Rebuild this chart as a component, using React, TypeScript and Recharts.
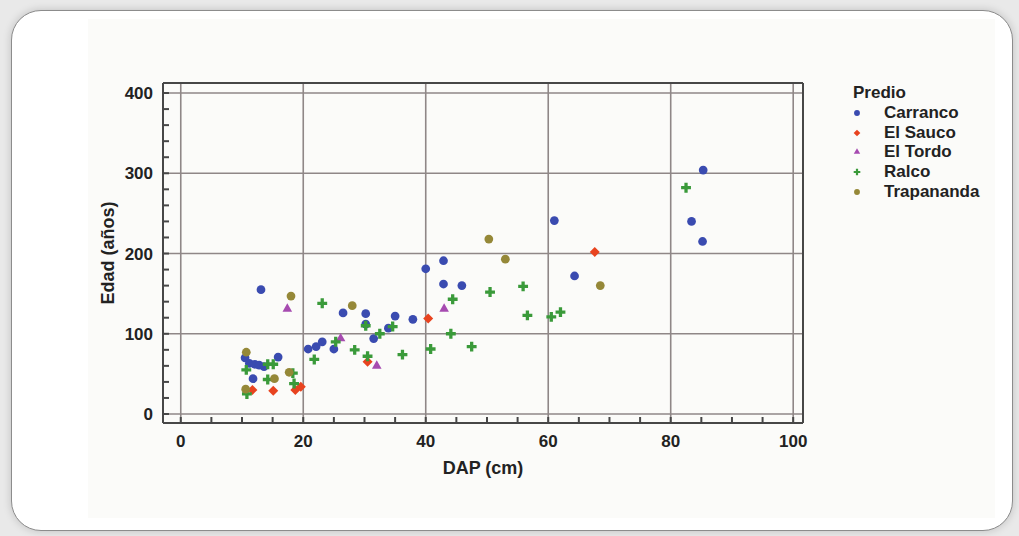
import {
  ScatterChart,
  Scatter,
  XAxis,
  YAxis,
  ReferenceLine,
  Legend,
  Symbols,
} from 'recharts';

const FONT = '"Liberation Sans", Arial, sans-serif';

// DAP (cm) / Edad (años) por predio
const carrancoDap = [10.5, 11.2, 12.1, 12.8, 13.6, 15.9, 11.8, 13.1, 20.8, 22.1, 23.1, 25.0, 26.5, 30.2, 30.2, 31.5, 33.9, 35.0, 37.9, 40.0, 42.9, 42.9, 45.9, 61.0, 64.3, 83.4, 85.3, 85.2];
const carrancoEdad = [70, 63, 62, 61, 59, 71, 44, 155, 81, 84, 90, 81, 126, 125, 112, 94, 107, 122, 118, 181, 191, 162, 160, 241, 172, 240, 304, 215];

const elSaucoDap = [11.7, 15.1, 18.7, 19.6, 30.5, 40.4, 67.6];
const elSaucoEdad = [30, 29, 30, 34, 65, 119, 202];

const elTordoDap = [17.4, 26.1, 32.0, 43.0];
const elTordoEdad = [131, 94, 60, 131];

const ralcoDap = [10.7, 10.8, 14.2, 15.1, 14.2, 18.3, 18.5, 21.8, 23.1, 25.3, 28.4, 30.2, 30.5, 32.5, 34.6, 36.2, 40.8, 44.1, 44.4, 47.5, 50.5, 55.9, 56.6, 60.5, 62.0, 82.5];
const ralcoEdad = [55, 25, 62, 62, 43, 51, 38, 68, 138, 90, 80, 110, 72, 100, 109, 74, 81, 100, 143, 84, 152, 159, 123, 121, 127, 282];

const trapanandaDap = [10.7, 10.6, 15.3, 17.7, 18.0, 28.0, 50.3, 53.0, 68.5];
const trapanandaEdad = [77, 31, 44, 52, 147, 135, 218, 193, 160];

const xMinorTicks = [0, 5, 10, 15, 20, 25, 30, 35, 40, 45, 50, 55, 60, 65, 70, 75, 80, 85, 90, 95, 100];
const xMajorTicks = [0, 20, 40, 60, 80, 100];
const yMinorTicks = [0, 20, 40, 60, 80, 100, 120, 140, 160, 180, 200, 220, 240, 260, 280, 300, 320, 340, 360, 380, 400];
const yMajorTicks = [0, 100, 200, 300, 400];

const xDomain: [number, number] = [-2.9, 101.6];
const yDomain: [number, number] = [-11.2, 412.5];

const zip = (xs: number[], ys: number[]) => xs.map((x, i) => ({ dap: x, edad: ys[i] }));

type Mark = { type: 'circle' | 'square' | 'triangle' | 'cross'; size: number; rotate: number };

const series: { name: string; data: { dap: number; edad: number }[]; color: string; mark: Mark }[] = [
  { name: 'Carranco', data: zip(carrancoDap, carrancoEdad), color: '#3a4bb0', mark: { type: 'circle', size: 60, rotate: 0 } },
  { name: 'El Sauco', data: zip(elSaucoDap, elSaucoEdad), color: '#e8431f', mark: { type: 'square', size: 50, rotate: 45 } },
  { name: 'El Tordo', data: zip(elTordoDap, elTordoEdad), color: '#a64bb0', mark: { type: 'triangle', size: 40, rotate: 0 } },
  { name: 'Ralco', data: zip(ralcoDap, ralcoEdad), color: '#3a9a3a', mark: { type: 'cross', size: 54, rotate: 0 } },
  { name: 'Trapananda', data: zip(trapanandaDap, trapanandaEdad), color: '#958838', mark: { type: 'circle', size: 60, rotate: 0 } },
];

const frame = '#474747';
const gridColor = '#8f8787';
const tickStyle = { fill: '#222', fontSize: 17, fontWeight: 700, fontFamily: FONT };

const markShape = (mark: Mark, color: string) => (props: any) => (
  <g transform={mark.rotate ? `rotate(${mark.rotate} ${props.cx} ${props.cy})` : undefined}>
    <Symbols cx={props.cx} cy={props.cy} type={mark.type} size={mark.size} fill={color} />
  </g>
);

function renderLegend() {
  return (
    <div style={{ fontFamily: FONT, fontWeight: 700, fontSize: 17, color: '#222', lineHeight: '19.8px' }}>
      <div>Predio</div>
      {series.map(s => (
        <div key={s.name} style={{ display: 'flex', alignItems: 'center', height: 19.8 }}>
          <svg width={31} height={20} style={{ flex: 'none' }}>
            <g transform={s.mark.rotate ? `rotate(${s.mark.rotate} 4 10)` : undefined}>
              <Symbols cx={4} cy={10} type={s.mark.type} size={s.mark.size * 0.45} fill={s.color} />
            </g>
          </svg>
          <span>{s.name}</span>
        </div>
      ))}
    </div>
  );
}

export default function App() {
  return (
    <div style={{ position: 'fixed', left: 0, top: 0, width: 1019, height: 536, background: '#e9e9e9', overflow: 'hidden' }}>
      <div
        style={{
          position: 'absolute',
          left: 11,
          top: 10,
          width: 1000,
          height: 519,
          background: '#fff',
          border: '1.5px solid #8c8c8c',
          borderRadius: 30,
          boxShadow: '0 0 8px rgba(0,0,0,0.18)',
        }}
      />
      <div style={{ position: 'absolute', left: 88, top: 19, width: 907, height: 499, background: '#fbfbf9' }} />
      <div style={{ position: 'absolute', left: 0, top: 0 }}>
        <ScatterChart width={1019} height={536} margin={{ top: 82, right: 215, bottom: 63, left: 103 }}>
          <XAxis
            type="number"
            dataKey="dap"
            domain={xDomain}
            ticks={xMinorTicks}
            interval={0}
            tickFormatter={(v: number) => (xMajorTicks.includes(v) ? String(v) : '')}
            height={50}
            tickSize={-6}
            tickMargin={18}
            tick={tickStyle}
            stroke={frame}
            strokeWidth={2}
            label={{ value: 'DAP (cm)', position: 'insideTop', offset: 38, style: { fill: '#222', fontSize: 18, fontWeight: 700, fontFamily: FONT } }}
          />
          <XAxis
            xAxisId="top"
            orientation="top"
            type="number"
            domain={xDomain}
            ticks={xMinorTicks}
            interval={0}
            tick={false}
            height={1}
            tickSize={-6}
            stroke={frame}
            strokeWidth={2}
          />
          <YAxis
            type="number"
            dataKey="edad"
            domain={yDomain}
            ticks={yMinorTicks}
            interval={0}
            tickFormatter={(v: number) => (yMajorTicks.includes(v) ? String(v) : '')}
            width={60}
            tickSize={-6}
            tickMargin={16}
            tick={tickStyle}
            stroke={frame}
            strokeWidth={2}
            label={{
              value: 'Edad (años)',
              angle: -90,
              position: 'insideLeft',
              offset: 5,
              style: { textAnchor: 'middle', fill: '#222', fontSize: 18, fontWeight: 700, fontFamily: FONT },
            }}
          />
          <YAxis
            yAxisId="right"
            orientation="right"
            type="number"
            domain={yDomain}
            ticks={yMinorTicks}
            interval={0}
            tick={false}
            width={1}
            tickSize={-6}
            stroke={frame}
            strokeWidth={2}
          />
          {xMajorTicks.map(v => (
            <ReferenceLine key={'x' + v} x={v} stroke={gridColor} strokeWidth={1.6} />
          ))}
          {yMajorTicks.map(v => (
            <ReferenceLine key={'y' + v} y={v} stroke={gridColor} strokeWidth={1.6} />
          ))}
          {series.map(s => (
            <Scatter
              key={s.name}
              name={s.name}
              data={s.data}
              fill={s.color}
              shape={markShape(s.mark, s.color)}
              isAnimationActive={false}
            />
          ))}
          <Legend
            layout="horizontal"
            verticalAlign="middle"
            align="center"
            content={renderLegend}
            wrapperStyle={{ position: 'absolute', left: 853, top: 83, width: 160, height: 125 }}
          />
        </ScatterChart>
      </div>
    </div>
  );
}
